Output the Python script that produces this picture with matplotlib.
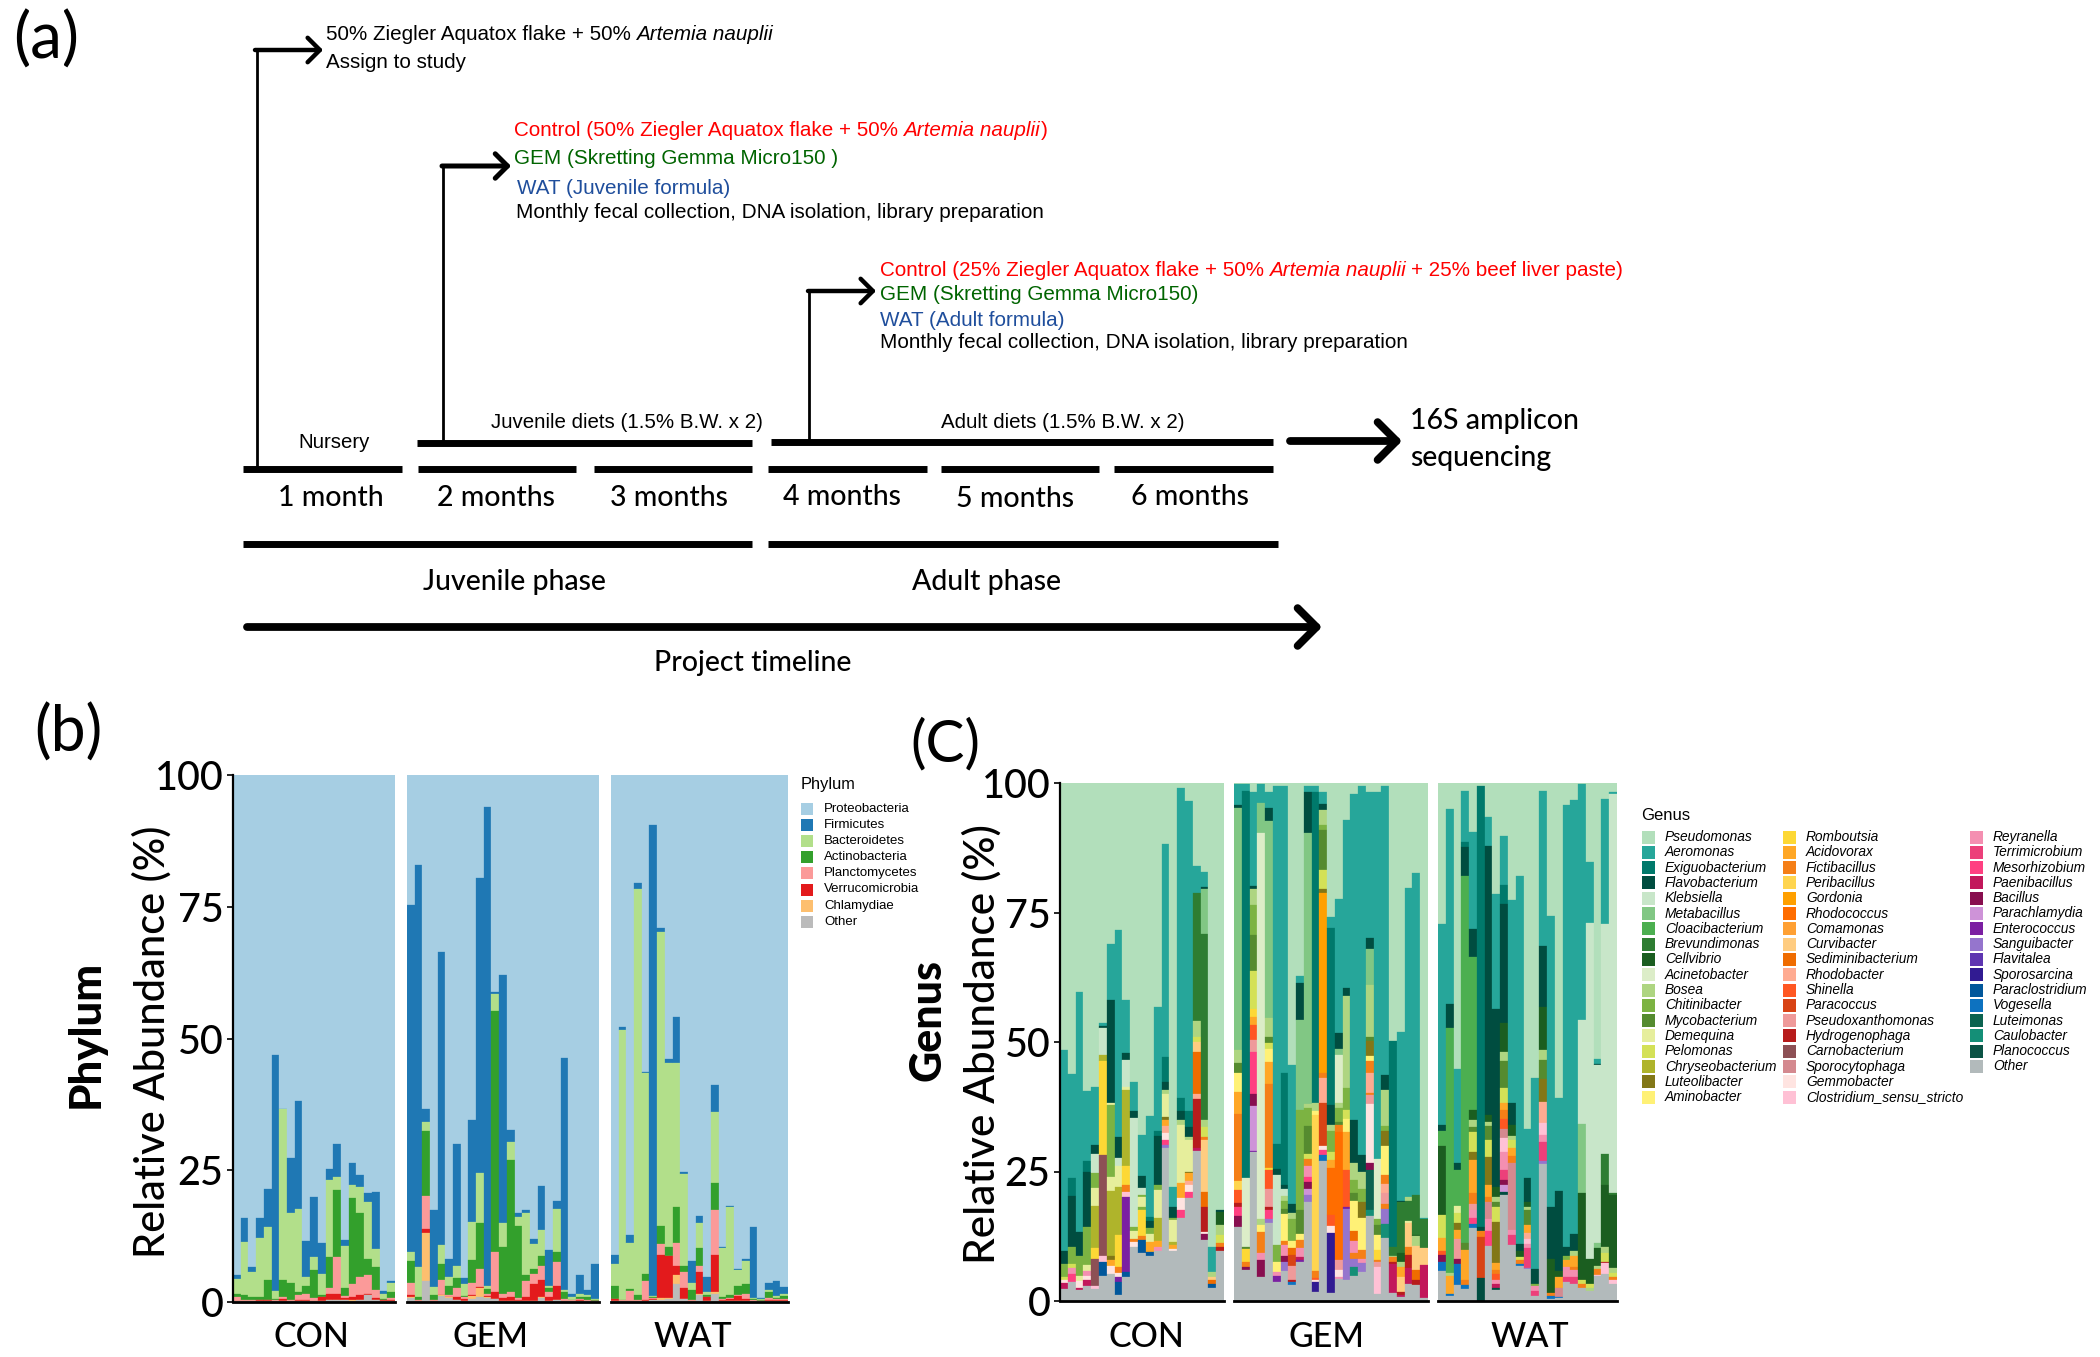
import matplotlib
matplotlib.use('Agg')
import matplotlib.pyplot as plt
from matplotlib.patches import Rectangle

W, H = 2100, 1357
CAL = 'Lato'
ARI = 'Liberation Sans'

# ---- panel (b) data
phyla = ['Proteobacteria', 'Firmicutes', 'Bacteroidetes', 'Actinobacteria',
         'Planctomycetes', 'Verrucomicrobia', 'Chlamydiae', 'Other']
phylum_colors = ['#A6CEE3', '#1F78B4', '#B2DF8A', '#33A02C',
                 '#FB9A99', '#E31A1C', '#FDBF6F', '#BBBBBB']

# each row: cumulative abundance (%) below Proteobacteria, Firmicutes, ... Chlamydiae
con_phylum = [
    [5.2, 4.3, 1.6, 0.9, 0.2, 0.1, 0.1], [16, 11.4, 1.3, 0.4, 0.1, 0.1, 0.1],
    [6.6, 5.7, 1, 0.4, 0.2, 0.1, 0.1], [16, 12.2, 1, 0.4, 0.3, 0.1, 0.1],
    [21.4, 14.2, 4.1, 0.4, 0.3, 0.1, 0.1], [46.9, 2, 0.6, 0.3, 0.2, 0.1, 0.1],
    [36.7, 36.6, 4.1, 0.9, 0.6, 0.1, 0.1], [27.4, 16.8, 3.7, 0.4, 0.2, 0.1, 0.1],
    [38.2, 17.7, 1.9, 1.3, 0.3, 0.1, 0.1], [11.5, 4.8, 3, 1.5, 0.3, 0.1, 0.1],
    [20, 8.6, 6, 0.7, 0.2, 0.2, 0.2], [11.2, 5.4, 1.3, 1, 0.9, 0.2, 0.2],
    [25.3, 23.2, 8.6, 2.6, 1.5, 0.4, 0.3], [30, 23.7, 21.2, 8.6, 1.5, 0.4, 0.4],
    [11.8, 10.6, 2.6, 1.1, 0.7, 0.3, 0.3], [26.4, 22.2, 19.7, 3.4, 0.9, 0.3, 0.2],
    [24.1, 21.8, 16.8, 4.8, 1.3, 0.3, 0.3], [20.6, 19, 8.2, 5.1, 1.6, 1.4, 1.3],
    [20.9, 10, 6.6, 2.2, 0.7, 0.3, 0.3], [2.1, 1.5, 0.6, 0.4, 0.3, 0.1, 0.1],
    [4, 3.7, 1.9, 0.7, 0.4, 0.1, 0.1],
]
gem_phylum = [
    [75.3, 9.5, 7.7, 3.7, 1.3, 1, 0.8], [83, 6.6, 0.9, 0.4, 0.2, 0.1, 0.1],
    [36.7, 34.1, 32.4, 20.1, 13.9, 13, 4], [17.5, 2.8, 1.3, 0.4, 0.2, 0.1, 0.1],
    [66.5, 10.8, 7.3, 4.1, 1.3, 1.3, 1.1], [8.2, 4.8, 3.1, 1.3, 1, 1, 0.8],
    [30, 6.9, 4.5, 2.6, 0.9, 0.4, 0.3], [4.6, 3.4, 1.1, 0.9, 0.6, 0.2, 0.2],
    [34.5, 15.2, 8, 3.7, 1.3, 1.1, 0.5], [80.5, 24.4, 15, 6.2, 2.8, 2.6, 1],
    [94, 3, 2.4, 1.5, 1.1, 0.9, 0.8], [58.9, 58.4, 55.3, 9.5, 1.9, 0.6, 0.5],
    [62, 14.9, 10.4, 1.5, 0.7, 0.2, 0.2], [32.6, 30.4, 27, 1.9, 0.9, 0.2, 0.2],
    [16.8, 16.2, 14.5, 0.7, 0.3, 0.1, 0.1], [17.4, 16.9, 5.2, 3.9, 0.9, 0.2, 0.2],
    [11.9, 11, 6.3, 5.4, 3.4, 0.2, 0.2], [22, 13.6, 8.8, 6.9, 4.1, 0.9, 0.8],
    [9.8, 3, 2.6, 1.9, 0.9, 0.2, 0.2], [19.2, 17.7, 9.5, 7.5, 3.1, 0.4, 0.3],
    [46.3, 2.2, 1.9, 0.6, 0.2, 0.1, 0.1], [1.6, 0.9, 0.4, 0.3, 0.2, 0.1, 0.1],
    [5.1, 1.5, 1, 0.5, 0.3, 0.1, 0.1], [2.2, 1.3, 0.9, 0.3, 0.2, 0.1, 0.1],
    [7.3, 0.6, 0.4, 0.2, 0.1, 0.1, 0.1],
]
wat_phylum = [
    [8.9, 7.3, 3, 0.5, 0.5, 0.1, 0.1], [52.2, 51.6, 0.4, 0.3, 0.2, 0.1, 0.1],
    [12.8, 11.2, 2.4, 2.1, 0.2, 0.1, 0.1], [79.6, 78.4, 1.3, 0.3, 0.2, 0.1, 0.1],
    [43.7, 43.4, 5.4, 4, 0.4, 0.2, 0.2], [90.5, 1.1, 0.9, 0.7, 0.5, 0.4, 0.3],
    [70.9, 70.3, 14.5, 11, 8.9, 0.7, 0.3], [46.2, 45.3, 10.4, 8.8, 8.7, 0.7, 0.5],
    [54, 45.3, 18, 11.2, 6.9, 5.1, 3.5], [24.7, 24.2, 6.9, 5.6, 2.6, 0.6, 0.5],
    [7.7, 3.7, 2.2, 0.4, 0.2, 0.1, 0.1], [16.4, 14.9, 10.3, 6.9, 5.6, 1.5, 1.4],
    [4.8, 1.9, 1.3, 1, 0.9, 0.1, 0.1], [41.1, 36.1, 22.5, 17.4, 8.9, 1.9, 1.5],
    [10.4, 10.3, 1, 0.6, 0.3, 0.1, 0.1], [18.2, 18.1, 1.3, 0.7, 0.6, 0.1, 0.1],
    [6.3, 6, 3.1, 1.3, 1.1, 0.2, 0.2], [8.2, 7.8, 3.4, 1.6, 0.5, 0.1, 0.1],
    [14.2, 0.7, 0.5, 0.3, 0.2, 0.1, 0.1], [0.7, 0.5, 0.3, 0.2, 0.1, 0.1, 0.1],
    [3.7, 2.2, 1.9, 0.7, 0.3, 0.1, 0.1], [4, 1.1, 0.8, 0.5, 0.3, 0.1, 0.1],
    [2.8, 1.6, 1.1, 0.5, 0.3, 0.1, 0.1],
]

# ---- panel (c) data
genera = ['Pseudomonas', 'Aeromonas', 'Exiguobacterium', 'Flavobacterium', 'Klebsiella',
          'Metabacillus', 'Cloacibacterium', 'Brevundimonas', 'Cellvibrio', 'Acinetobacter',
          'Bosea', 'Chitinibacter', 'Mycobacterium', 'Demequina', 'Pelomonas',
          'Chryseobacterium', 'Luteolibacter', 'Aminobacter',
          'Romboutsia', 'Acidovorax', 'Fictibacillus', 'Peribacillus', 'Gordonia',
          'Rhodococcus', 'Comamonas', 'Curvibacter', 'Sediminibacterium', 'Rhodobacter',
          'Shinella', 'Paracoccus', 'Pseudoxanthomonas', 'Hydrogenophaga', 'Carnobacterium',
          'Sporocytophaga', 'Gemmobacter', 'Clostridium_sensu_stricto',
          'Reyranella', 'Terrimicrobium', 'Mesorhizobium', 'Paenibacillus', 'Bacillus',
          'Parachlamydia', 'Enterococcus', 'Sanguibacter', 'Flavitalea', 'Sporosarcina',
          'Paraclostridium', 'Vogesella', 'Luteimonas', 'Caulobacter', 'Planococcus', 'Other']
genus_colors = ['#B2DFBB', '#26A69A', '#00796B', '#004D40', '#C8E6C9',
                '#81C784', '#4CAF50', '#2E7D32', '#1B5E20', '#DCEDC8',
                '#AED581', '#7CB342', '#558B2F', '#E6EE9C', '#D4E157',
                '#AFB42B', '#827717', '#FFF176',
                '#FDD835', '#FFA726', '#F57F17', '#FFD54F', '#FFA000',
                '#FF6D00', '#FFA033', '#FFCC80', '#EF6C00', '#FFAB91',
                '#FF5722', '#D84315', '#EF9A9A', '#B71C1C', '#8D5055',
                '#D4898F', '#FFE4E1', '#FFC1D5',
                '#F48FB1', '#EC407A', '#FF4081', '#C2185B', '#880E4F',
                '#CE93D8', '#7B1FA2', '#9575CD', '#5E35B1', '#311B92',
                '#01579B', '#0D72C0', '#0B6350', '#148F77', '#0B5345', '#B2BABB']
codes = ['Pse', 'Aer', 'Exi', 'Fla', 'Kle', 'Met', 'Clo', 'Bre', 'Cel', 'Aci', 'Bos', 'Chi',
         'Myc', 'Dem', 'Pel', 'Chr', 'Lut', 'Ami', 'Rom', 'Acd', 'Fic', 'Per', 'Gor', 'Rho',
         'Com', 'Cur', 'Sed', 'Rdb', 'Shi', 'Par', 'Psx', 'Hyd', 'Car', 'Spy', 'Gem', 'Cls',
         'Rey', 'Ter', 'Mes', 'Pae', 'Bac', 'Prc', 'Ent', 'San', 'Flv', 'Spo', 'Pcl', 'Vog',
         'Ltm', 'Cau', 'Pla', 'Oth']

# top of stack first: genus code, then cumulative abundance (%) left below it
con_genus = [
    'Pse 48.4 Aer 9.7 Fla 7.1 Chi 4.7 Pel 4 Gem 3.4 Pae 2.3 Oth 0',
    'Pse 43.8 Aer 23.7 Exi 20.3 Fla 10.5 Chi 7.1 Pel 6.3 Rey 5.2 Mes 3.7 Oth 0',
    'Pse 59.6 Aer 13.3 Fla 8.7 Chi 4.9 Dem 3.8 Gem 2.6 Pae 2.1 Oth 0',
    'Pse 40.5 Aer 27.1 Exi 25 Fla 14.2 Chi 6.9 Dem 5.8 Rey 4.9 Gem 4 Pae 2.8 Oth 0',
    'Pse 41.4 Aer 30.2 Fla 28.3 Kle 24.8 Chi 21.9 Dem 18.4 Chr 10.2 Rom 8.2 Car 2.8 Cls 2.3 Oth 0',
    'Pse 53.7 Aer 53 Fla 52.7 Kle 47.4 Chr 46.3 Rom 28.2 Car 8.7 Cls 7.6 Pcl 4.9 Oth 0',
    'Pse 69 Aer 58.1 Fla 38.3 Dem 37.9 Chi 24 Dem 21.3 Chr 8.6 Lut 8 Acd 6.7 Gem 5.3 Oth 0',
    'Pse 71.6 Aer 31.6 Fla 27.7 Kle 26 Dem 22 Chr 12.8 Rom 6.5 Fic 5.4 Gem 4.6 Ent 3.6 Pcl 1.2 Oth 0',
    'Pse 58.1 Aer 47.8 Fla 46.6 Kle 41.4 Dem 40.7 Chr 26 Rom 22.4 Fic 21 Cls 20 Ent 5.6 Pcl 4.6 Oth 0',
    'Pse 42.3 Aer 36.7 Fla 35.4 Kle 14.2 Chi 13.5 Dem 11.9 Fic 11.3 Gem 10.5 Oth 0',
    'Pse 32.1 Aer 24.2 Fla 21.9 Kle 20.4 Chi 20 Dem 18.1 Chi 17.6 Rom 12.5 Fic 11.7 Pcl 9.2 Oth 0',
    'Pse 35.8 Aer 16.3 Exi 15.5 Fla 14 Chi 13 Dem 11.3 Acd 9.4 Pcl 8.7 Oth 0',
    'Pse 56.7 Aer 32.9 Exi 31.9 Fla 22.4 Chi 21.4 Dem 16.1 Chr 11.5 Acd 10.5 Rey 9.6 Oth 0',
    'Pse 88.3 Aer 47.2 Exi 42.2 Fla 40.8 Bos 39.9 Dem 35.6 Lut 35 Acd 33.7 Rdb 32.5 Gem 31 Mes 30.2 San 29.6 Oth 0',
    'Pse 22.1 Aer 18.1 Fla 16.1 Chi 15.6 Dem 11.3 Chr 10.8 Acd 10.1 Gem 9.6 Oth 0',
    'Pse 99 Aer 39.2 Exi 36.6 Fla 35 Bos 33.9 Dem 22.7 Acd 19.8 Gem 17.5 Mes 16.1 Oth 0',
    'Pse 96.5 Aer 36.6 Exi 33.5 Fla 31.6 Bos 31 Dem 25 Lut 24.7 Acd 23.2 Rdb 22.3 Gem 21 Mes 19.9 Oth 0',
    'Pse 84 Aer 78.7 Bre 54 Bos 51 Pel 50 Cur 48.1 Sed 39.9 Rdb 38.9 Hyd 29.5 Pae 28.9 Oth 0',
    'Pse 82.9 Aer 80 Fla 79.6 Met 70.8 Bre 35 Bos 33.6 Pel 31.6 Fic 31.1 Cur 21 Sed 18.1 Hyd 13.3 Gem 13 Bac 11.7 Oth 0',
    'Pse 10.4 Aer 5.6 Bos 4.7 Cur 4 Sed 3.3 Pcl 2.6 Oth 0',
    'Pse 17.6 Fla 17.1 Cel 14.6 Bos 12.8 Pel 11.2 Fic 10.5 Hyd 9.6 Oth 0',
]
gem_genus = [
    'Pse 99.8 Aer 95.7 Fla 95.2 Met 48.4 Bos 45.9 Myc 44.1 Ami 40.3 Acd 36.1 Fic 23.2 Per 21.5 Shi 19 Hyd 18.1 Mes 16.5 Bac 14.2 Oth 0',
    'Pse 99.8 Aer 98.5 Exi 23.7 Aci 10.5 Myc 10 Rom 7.6 Fic 6.6 Bac 5.9 Oth 0',
    'Pse 98.2 Aer 80.2 Fla 79.6 Bos 76.5 Chi 70.6 Myc 63.8 Pel 56.3 Rom 54.8 Acd 53.2 Shi 50.4 Psx 48 Mes 39.9 Bac 37.7 Prc 29 Ent 28.7 Oth 0',
    'Pse 99.8 Aer 96.2 Met 90.4 Aci 15.8 Bos 14.6 Ami 13.4 Fic 9.2 Rey 8 Bac 4.7 Oth 0',
    'Pse 98.2 Aer 95.2 Fla 92.7 Met 54.7 Bos 50.9 Myc 49.9 Pel 48.7 Ami 46.1 Acd 41.8 Fic 25.7 Rom 25.2 Shi 21.6 Psx 18.1 Hyd 17.5 Mes 15.9 San 15 Oth 0',
    'Pse 99.5 Aer 30.3 Exi 25.4 Fla 24.4 Kle 10.9 Chi 7.6 Ami 5.6 Rey 4.9 Ent 3.6 Oth 0',
    'Pse 99.5 Aer 44.1 Exi 22.4 Fla 21.6 Kle 20.3 Bos 19.4 Chi 17.7 Myc 16.8 Ami 11.5 Fic 10.9 Rey 8.6 Bac 7.6 San 5.8 Oth 0',
    'Pse 45.5 Aer 18.8 Fla 16.9 Bos 15.8 Chi 11.5 Ami 10.2 Sed 8.9 Par 6.7 Psx 4.1 Hyd 3.6 Vog 3 Oth 0',
    'Pse 62.7 Aer 61.3 Fla 54.3 Met 36.9 Chi 17.5 Myc 13 Ami 11.7 Fic 10.2 Rey 8.4 Pae 7.9 Ent 7.5 Oth 0',
    'Pse 99.5 Aer 98.2 Fla 90.4 Met 38 Bos 37.2 Chi 33.7 Myc 28.3 Pel 27.5 Fic 26 Rey 24 Mes 22.9 Bac 21.7 Prc 20.4 San 19.2 Oth 0',
    'Pse 99.5 Aer 98.3 Exi 38.3 Bos 36.6 Ami 36 Per 5.8 Fic 4.5 Shi 4 Gem 3.6 Spo 1.8 Oth 0',
    'Pse 98.2 Aer 96 Fla 94.7 Bos 91.9 Chi 91 Myc 83.3 Pel 79.6 Lut 78.7 Gor 44.1 Fic 43.1 Rdb 38.2 Par 30 Gem 29.1 Mes 28.2 Vog 27.1 Oth 0',
    'Pse 74.1 Aer 72.1 Exi 37.9 Fla 33.9 Bos 32.9 Chi 28.7 Pel 27.3 Acd 25.7 Rho 16.6 Shi 14.5 Gem 13.2 Spo 1.6 Oth 0',
    'Pse 77.7 Aer 51.7 Fla 48.7 Met 47.4 Aci 38.2 Bos 37.2 Chi 34.6 Myc 34 Fic 32.6 Rho 7.9 Psx 5.9 Gem 4.7 Rey 4.3 Oth 0',
    'Pse 92.8 Aer 60.5 Fla 58.8 Bos 41.2 Chi 36.9 Pel 35.2 Ami 32.6 Acd 25.2 Shi 18.1 Ent 17.8 San 4 Oth 0',
    'Pse 97.8 Aer 35 Fla 26.7 Bos 23.4 Chi 20.8 Myc 19.4 Ami 13.5 Sed 11.5 Rey 9.2 Fic 8.2 San 6.6 Cau 4.9 Oth 0',
    'Pse 99.5 Aer 28.2 Fla 25 Bos 21.7 Chi 19.1 Lut 16.1 Ami 9.9 Fic 8.2 Rey 7.4 San 5.6 Oth 0',
    'Pse 98.2 Aer 70 Fla 67.9 Met 61.1 Bos 51 Myc 50.2 Lut 47.3 Ami 46.4 Fic 44.1 Rdb 40.2 Fic 39.7 Psx 38.1 Gem 26.7 Bac 25.2 Ltm 17.5 Cau 16.5 Oth 0',
    'Pse 98.2 Aer 27.5 Aci 15.9 Chi 14.6 Myc 12.8 Ami 9.9 Rom 7.9 Fic 7.5 Psx 6.6 Cls 1.4 Oth 0',
    'Pse 99.5 Aer 43.6 Fla 40.8 Bos 33.7 Chi 32.8 Lut 30 Ami 24.4 Fic 22.5 Rdb 20.8 Psx 18.8 Fic 17.8 San 14.8 Cau 12.2 Oth 0',
    'Pse 50.2 Exi 10.5 Bre 8.7 Bos 8.4 Fic 7.6 Hyd 7.2 Pae 1.6 Oth 0',
    'Pse 51.9 Aer 19.4 Fla 19.1 Bre 9.2 Cel 7.6 Bos 6.6 Acd 4.7 Cur 1.8 Hyd 1.2 Pae 0.7 Oth 0',
    'Pse 79.8 Aer 20.1 Bos 19.4 Bre 15.5 Dem 15 Cur 10.4 Fic 8.9 Hyd 6.3 Pae 3.3 Oth 0',
    'Pse 82.7 Aer 20.4 Bre 12.8 Cel 12.5 Bos 10.7 Cur 5.9 Sed 4 Hyd 3 Oth 0',
    'Pse 16.1 Aer 15.8 Bre 10.2 Cur 6.9 Pae 0.5 Oth 0',
]
wat_genus = [
    'Pse 72.8 Aer 33.9 Fla 32.9 Clo 30 Cel 16.6 Pel 12.2 Acd 9.6 Shi 8.9 Bac 7.6 Vog 5.8 Oth 0',
    'Pse 94.9 Aer 57.3 Fla 52.7 Clo 5.4 Bos 4.9 Acd 1.3 Vog 0.9 Oth 0',
    'Pse 44.7 Aer 26.7 Fla 25.2 Clo 18.4 Dem 16.9 Pel 15 Lut 13.8 Acd 11.9 Psx 8.2 Bac 7.1 Vog 3 Oth 0',
    'Pse 98.4 Aer 88.6 Exi 87.7 Fla 82.1 Clo 11.2 Myc 9.9 Acd 4 Fic 3 Vog 2.3 Oth 0',
    'Pse 90.6 Aer 71.9 Fla 66.5 Clo 36.9 Cel 35 Bos 33.5 Myc 32.6 Pel 28.7 Lut 27.2 Acd 20.9 Fic 18.8 Psx 17.5 Rey 16.1 Mes 14.8 Vog 14 Oth 0',
    'Pse 99.5 Exi 14.2 Fla 13.5 Fic 12.4 Par 4.5 Fla 0',
    'Pse 93.4 Aer 87.9 Fla 35.9 Cel 34.6 Bos 33.7 Myc 31.1 Pel 27.8 Lut 22.3 Acd 20.1 Fic 19.2 Spy 15.8 Rey 13.5 Mes 10.7 Oth 0',
    'Pse 78.5 Aer 56.3 Fla 22.1 Cel 20.1 Bos 19.2 Myc 18.1 Pel 15.2 Lut 7.4 Acd 5.9 Fic 5.3 Shi 4 Rey 3.3 Pae 2.5 Fla 2.2 Oth 0',
    'Pse 89.7 Aer 80.4 Exi 76.7 Fla 53.7 Cel 48.1 Bos 46.4 Myc 41.2 Pel 38.2 Acd 36.8 Fic 35.2 Shi 33.3 Spy 31.5 Cls 28.7 Rey 25.2 Ter 23.4 Bac 22.4 Prc 21 Fla 20.4 Oth 0',
    'Pse 77.4 Aer 38.2 Fla 33.9 Cel 31.8 Bos 31 Pel 29.5 Acd 28 Fic 26.7 Spy 13.7 Rey 12.8 Ter 10.9 Oth 0',
    'Pse 82 Aer 11.1 Fla 9.6 Cel 8.4 Pel 7.9 Fic 7.1 Vog 6.7 Oth 0',
    'Pse 33.3 Aer 23.7 Fla 19.2 Cel 18.1 Bos 17.5 Myc 14.6 Acd 13.2 Rdb 12 Cls 11.1 Rey 10.2 Ter 6.3 San 6.1 Oth 0',
    'Pse 43 Aer 6.1 Fla 3.3 Chi 2.8 Rey 2 Ter 1 Oth 0',
    'Pse 98.4 Aer 68.5 Fla 56.7 Cel 48.4 Bos 46.6 Myc 42.8 Lut 38.5 Rdb 34.3 Cls 32.1 Rey 30.6 Ter 27 San 26.4 Oth 0',
    'Pse 74.3 Aer 18.1 Fla 8.2 Cel 1.6 Fic 1 Vog 0.3 Oth 0',
    'Pse 39.2 Aer 21.2 Fla 5.8 Cel 4.7 Acd 2.6 Spy 0.8 Vog 0.5 Oth 0',
    'Pse 95.7 Aer 10.5 Fla 8.6 Chi 7.9 Acd 6.6 Rey 4.6 Ter 3.6 Oth 0',
    'Pse 96.7 Aer 13 Fla 9.6 Bos 8.6 Acd 6.6 Fic 5.9 Rey 4.6 Ter 3.3 Oth 0',
    'Pse 99.8 Aer 54.3 Kle 34.1 Met 20.9 Cel 4.1 Pel 3.3 Fic 2.6 Oth 0',
    'Pse 84.8 Aer 73 Kle 8.2 Cel 3.3 Pel 2.6 Bos 2 Oth 0',
    'Pse 46.8 Aer 45.8 Fla 45.5 Kle 11.2 Met 10.2 Cel 6.7 Bos 6.2 Fic 5.1 Cls 4.9 Oth 0',
    'Pse 97 Aer 72.7 Kle 28.3 Bre 22.4 Cel 10.4 Bos 9.2 Pel 7.6 Hyd 7.3 Cls 5.3 Oth 0',
    'Pse 98.3 Aer 97.8 Kle 20.9 Bre 20.5 Cel 6.3 Bos 5.4 Pel 4.6 Fic 4.1 Cls 3.2 Oth 0',
]

facet_names = ['CON', 'GEM', 'WAT']
y_ticks = [0, 25, 50, 75, 100]


def pixel_axes(left, right, top, bottom):
    return fig.add_axes([left / W, 1 - bottom / H, (right - left) / W, (bottom - top) / H])


def draw_phylum(ax, rows):
    for i, row in enumerate(rows):
        upper = 100
        for name, color, lower in zip(phyla, phylum_colors, list(row) + [0]):
            ax.bar(i, upper - lower, bottom=lower, width=1, color=color,
                   edgecolor=color, linewidth=0.2)
            upper = lower


def draw_genus(ax, bars):
    for i, bar in enumerate(bars):
        parts = bar.split()
        upper = 100
        for code, lower in zip(parts[::2], parts[1::2]):
            lower = float(lower)
            color = genus_colors[codes.index(code)]
            ax.bar(i, upper - lower, bottom=lower, width=1, color=color,
                   edgecolor=color, linewidth=0.2)
            upper = lower


def style_facet(ax, n, first):
    ax.set_xlim(-0.5, n - 0.5)
    ax.set_ylim(0, 100)
    ax.set_xticks([])
    for side in ['top', 'right']:
        ax.spines[side].set_visible(False)
    ax.spines['bottom'].set_linewidth(2)
    if first:
        ax.spines['left'].set_linewidth(1.6)
        ax.set_yticks(y_ticks)
        ax.tick_params(axis='y', length=4, width=1.2, pad=3, labelsize=28.5)
        for t in ax.get_yticklabels():
            t.set_fontfamily(CAL)
            t.set_fontweight('medium')
    else:
        ax.spines['left'].set_visible(False)
        ax.set_yticks([])


fig = plt.figure(figsize=(W / 100, H / 100), dpi=100)

# overlay in pixel coordinates for the timeline and all the free text
bg = fig.add_axes([0, 0, 1, 1])
bg.set_xlim(0, W)
bg.set_ylim(H, 0)
bg.axis('off')


def label(x, y, s, size=14, family=ARI, ha='left', **kw):
    return bg.text(x, y, s, fontsize=size, family=family, ha=ha, va='center', **kw)


def big(x, y, s, size=20.5, ha='center', **kw):
    kw.setdefault('weight', 'medium')
    return label(x, y, s, size=size, family=CAL, ha=ha, **kw)


def rich(x, y, parts, color, size=14.85):
    # run of roman and italic pieces on one line, gap is the width of one space
    renderer = fig.canvas.get_renderer()
    for s, style, gap in parts:
        t = label(x, y, s, size=size, color=color, style=style)
        x = t.get_window_extent(renderer).x1 + gap


def hbar(x0, x1, y, lw=5):
    bg.plot([x0, x1], [y, y], color='black', lw=lw, solid_capstyle='butt')


def arrow(x0, x1, y, lw, ms):
    bg.annotate('', xy=(x1, y), xytext=(x0, y),
                arrowprops=dict(arrowstyle='->,head_length=0.4,head_width=0.4',
                                lw=lw, color='black', shrinkA=0, shrinkB=0, mutation_scale=ms))


# panel (a): timeline
big(13, 40, '(a)', size=46, ha='left', weight='normal')
for x, y0, y1 in [(257, 50, 466), (443, 166, 440), (809, 291, 438)]:
    bg.plot([x, x], [y0, y1], color='black', lw=2)
arrow(255, 323, 50, 3.2, 22)
arrow(442, 511, 166, 3.6, 22)
arrow(808, 876, 291, 3.2, 22)
for x0, x1 in [(243, 402), (418, 576), (594, 752), (768, 927), (941, 1099), (1114, 1273)]:
    hbar(x0, x1, 469)
hbar(417, 752, 443)
hbar(771, 1273, 442)
hbar(243, 752, 544)
hbar(768, 1278, 544)
arrow(1290, 1402, 441, 5.6, 34)
arrow(247, 1322, 627, 5.6, 34)

black, red, green, blue = 'black', '#FF0000', '#006400', '#1F4E9C'
rich(326, 34, [('50% Ziegler Aquatox flake + 50%', 'normal', 5), ('Artemia nauplii', 'italic', 0)], black)
rich(326, 63, [('Assign to study', 'normal', 0)], black)
rich(514, 130, [('Control (50% Ziegler Aquatox flake + 50%', 'normal', 5), ('Artemia nauplii', 'italic', 1), (')', 'normal', 0)], red)
rich(514, 159, [('GEM (Skretting Gemma Micro150 )', 'normal', 0)], green)
rich(517, 188, [('WAT (Juvenile formula)', 'normal', 0)], blue)
rich(516, 213, [('Monthly fecal collection, DNA isolation, library preparation', 'normal', 0)], black)
rich(880, 271, [('Control (25% Ziegler Aquatox flake + 50%', 'normal', 5), ('Artemia nauplii', 'italic', 5), ('+ 25% beef liver paste)', 'normal', 0)], red)
rich(880, 295, [('GEM (Skretting Gemma Micro150)', 'normal', 0)], green)
rich(880, 321, [('WAT (Adult formula)', 'normal', 0)], blue)
rich(880, 342, [('Monthly fecal collection, DNA isolation, library preparation', 'normal', 0)], black)
label(298, 442, 'Nursery', size=14.7)
label(491, 423, 'Juvenile diets (1.5% B.W. x 2)', size=14.8)
label(941, 423, 'Adult diets (1.5% B.W. x 2)', size=14.8)
for x, y, s in [(331, 498, '1 month'), (496, 498, '2 months'), (669, 498, '3 months'),
                (842, 497, '4 months'), (1015, 499, '5 months'), (1190, 497, '6 months')]:
    big(x, y, s)
big(514, 582, 'Juvenile phase')
big(986, 582, 'Adult phase')
big(753, 663, 'Project timeline')
big(1410, 421, '16S amplicon', ha='left')
big(1410, 458, 'sequencing', ha='left')

# panel (b)
big(34, 733, '(b)', size=45, ha='left', weight='normal')
for (l, r), rows, name, xc, first in zip([(233, 395), (407, 599), (611, 788)],
                                         [con_phylum, gem_phylum, wat_phylum], facet_names,
                                         [311, 490, 693], [True, False, False]):
    ax = pixel_axes(l, r, 775, 1302)
    draw_phylum(ax, rows)
    style_facet(ax, len(rows), first)
    big(xc, 1337, name, size=24.5)
big(152, 1042, 'Relative Abundance (%)', size=30, rotation=90)
big(86, 1034, 'Phylum', size=31.5, rotation=90, weight=900)

label(801, 785, 'Phylum', size=11.8)
for i, (name, color) in enumerate(zip(phyla, phylum_colors)):
    y = 809 + 16.1 * i
    bg.add_patch(Rectangle((801, y - 6), 12, 12, color=color, lw=0))
    label(824, y, name, size=9.5)

# panel (c)
big(910, 745, '(C)', size=42, ha='left', weight='normal')
for (l, r), bars, name, xc, first in zip([(1060, 1224), (1234, 1428), (1438, 1617)],
                                         [con_genus, gem_genus, wat_genus], facet_names,
                                         [1146, 1327, 1530], [True, False, False]):
    ax = pixel_axes(l, r, 783, 1301)
    draw_genus(ax, bars)
    style_facet(ax, len(bars), first)
    big(xc, 1337, name, size=24.5)
big(982, 1044, 'Relative Abundance (%)', size=30.5, rotation=90)
big(928, 1020, 'Genus', size=31, rotation=90, weight=900)

label(1641, 815, 'Genus', size=12)
col_x = [1642, 1783, 1970]
col_start = [0, 18, 36]
for i, (name, color) in enumerate(zip(genera, genus_colors)):
    col = 0 if i < 18 else (1 if i < 36 else 2)
    x = col_x[col]
    y = 837 + 15.3 * (i - col_start[col])
    bg.add_patch(Rectangle((x, y - 6.5), 13, 13, color=color, lw=0))
    label(x + 23, y, name, size=9.9, style='italic')

fig.savefig('out.png', dpi=100)
